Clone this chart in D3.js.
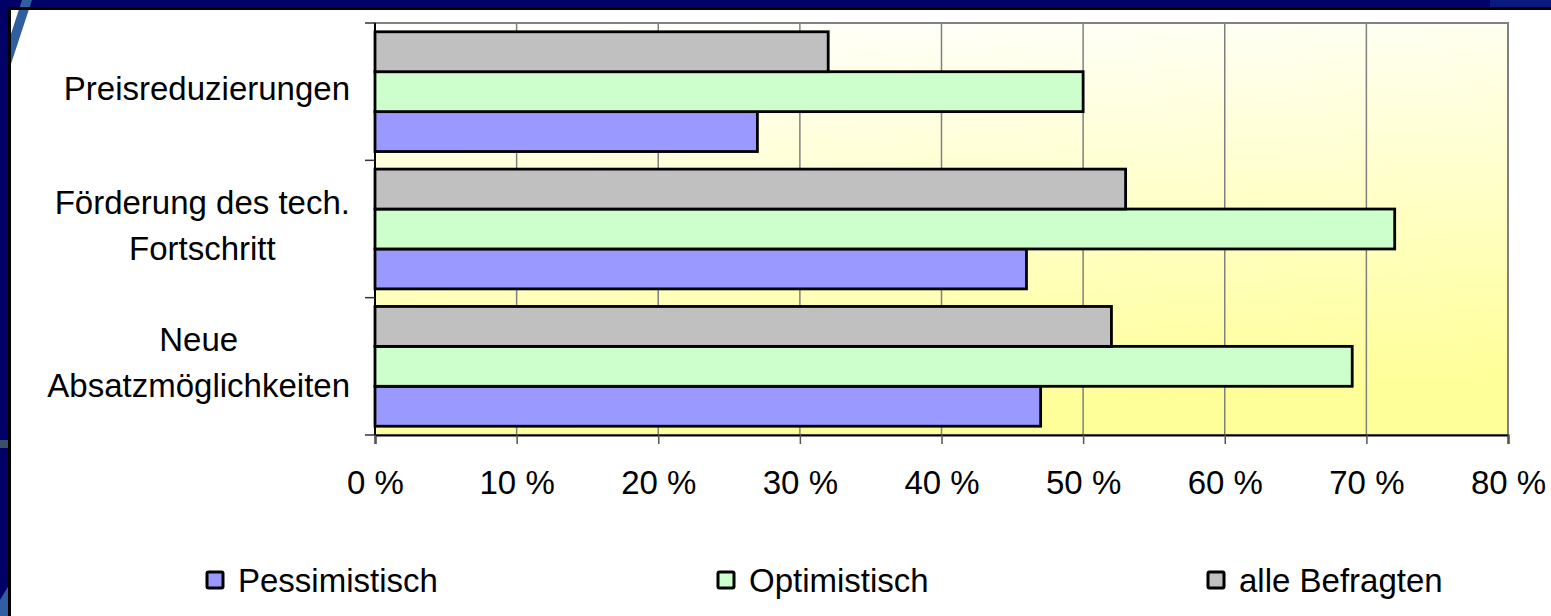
<!DOCTYPE html>
<html>
<head>
<meta charset="utf-8">
<script src="https://cdn.jsdelivr.net/npm/d3@7"></script>
<style>
  body { margin: 0; background: #ffffff; }
  svg { display: block; font-family: "Liberation Sans", Arial, sans-serif; }
</style>
</head>
<body>
<div id="chart"></div>
<script>
// categories top to bottom, "\n" marks a line break in the label
const categories = ["Preisreduzierungen", "Förderung des tech.\nFortschritt", "Neue\nAbsatzmöglichkeiten"];
const series = ["Pessimistisch", "Optimistisch", "alle Befragten"];
const pessimistisch = [27, 46, 47];
const optimistisch = [50, 72, 69];
const alleBefragten = [32, 53, 52];
const xTicks = [0, 10, 20, 30, 40, 50, 60, 70, 80];

const seriesValues = [pessimistisch, optimistisch, alleBefragten];
const seriesColors = ["#9999FF", "#CCFFCC", "#C0C0C0"];

const width = 1551;
const height = 616;
const plot = { left: 375, right: 1508, top: 23, bottom: 435 };
const fontSize = "33px";

const svg = d3.select("#chart")
  .append("svg")
  .attr("width", width)
  .attr("height", height);

const defs = svg.append("defs");
const grad = defs.append("linearGradient")
  .attr("id", "plotBg")
  .attr("x1", 0).attr("y1", 0)
  .attr("x2", 0.15).attr("y2", 1);
grad.append("stop").attr("offset", "0%").attr("stop-color", "#FFFFFF");
grad.append("stop").attr("offset", "100%").attr("stop-color", "#FFFF99");

// slide frame: navy strips top and left
svg.append("rect").attr("x", 0).attr("y", 0).attr("width", width).attr("height", 8).attr("fill", "#000066");
svg.append("rect").attr("x", 0).attr("y", 0).attr("width", 9).attr("height", height).attr("fill", "#000066");
svg.append("rect").attr("x", 1490).attr("y", 0).attr("width", 61).attr("height", 8).attr("fill", "#0a1a80");
svg.append("path")
  .attr("d", "M22,0 L32,0 L9,70 L9,40 Z M0,600 L9,585 L9,616 L0,616 Z")
  .attr("fill", "#2f5fa0");
svg.append("rect").attr("x", 0).attr("y", 440).attr("width", 9).attr("height", 8).attr("fill", "#3a4f6a");
svg.append("path")
  .attr("d", `M9.5,${height} L9.5,8.5 L${width},8.5`)
  .attr("fill", "none")
  .attr("stroke", "#000000")
  .attr("stroke-width", 3);

const x = d3.scaleLinear()
  .domain([0, 80])
  .range([plot.left, plot.right]);

const y = d3.scaleBand()
  .domain(categories)
  .range([plot.top, plot.bottom])
  .padding(0);

// bars inside a band: "alle Befragten" on top, "Pessimistisch" at the bottom
const ySeries = d3.scaleBand()
  .domain([2, 1, 0])
  .range([0, y.bandwidth()])
  .paddingInner(0)
  .paddingOuter(0.22);

svg.append("rect")
  .attr("x", plot.left)
  .attr("y", plot.top)
  .attr("width", plot.right - plot.left)
  .attr("height", plot.bottom - plot.top)
  .attr("fill", "url(#plotBg)")
  .attr("stroke", "#808080")
  .attr("stroke-width", 2);

svg.selectAll(".grid")
  .data(xTicks.slice(1))
  .enter()
  .append("line")
  .attr("x1", d => x(d))
  .attr("x2", d => x(d))
  .attr("y1", plot.top)
  .attr("y2", plot.bottom)
  .attr("stroke", "#808080")
  .attr("stroke-width", 1.5);

const rows = categories.map((c, i) => ({
  category: c,
  values: seriesValues.map((vals, s) => ({ s: s, value: vals[i] }))
}));

const groups = svg.selectAll(".cat")
  .data(rows)
  .enter()
  .append("g")
  .attr("transform", d => `translate(0,${y(d.category)})`);

groups.selectAll("rect")
  .data(d => d.values)
  .enter()
  .append("rect")
  .attr("x", x(0))
  .attr("y", d => ySeries(d.s))
  .attr("width", d => x(d.value) - x(0))
  .attr("height", ySeries.bandwidth())
  .attr("fill", d => seriesColors[d.s])
  .attr("stroke", "#000000")
  .attr("stroke-width", 2.8);

// axes
const xAxis = svg.append("g")
  .attr("transform", `translate(0,${plot.bottom})`)
  .call(d3.axisBottom(x).tickValues(xTicks).tickSize(9).tickFormat(d => d + " %"));
xAxis.select(".domain").attr("stroke", "#000000").attr("stroke-width", 2);
xAxis.selectAll(".tick line").attr("stroke", "#555555").attr("stroke-width", 1.5);
xAxis.selectAll(".tick text")
  .attr("y", 36)
  .attr("font-family", "Liberation Sans, Arial, sans-serif")
  .attr("font-size", fontSize)
  .attr("fill", "#000000");

const bandEdges = categories.map(c => y(c)).concat([plot.bottom]);
svg.append("line")
  .attr("x1", plot.left).attr("x2", plot.left)
  .attr("y1", plot.top).attr("y2", plot.bottom)
  .attr("stroke", "#000000").attr("stroke-width", 2);
svg.selectAll(".ytick")
  .data(bandEdges)
  .enter()
  .append("line")
  .attr("x1", plot.left - 10).attr("x2", plot.left)
  .attr("y1", d => d).attr("y2", d => d)
  .attr("stroke", "#333333").attr("stroke-width", 1.5);

// category labels, centred lines, block right-aligned to the axis
const labelRight = 350;
const lineHeight = 46;
const labels = svg.selectAll(".catLabel")
  .data(categories)
  .enter()
  .append("text")
  .attr("font-size", fontSize)
  .attr("fill", "#000000")
  .attr("text-anchor", "middle");

labels.each(function(c) {
  const text = d3.select(this);
  const lines = c.split("\n");
  const cy = y(c) + y.bandwidth() / 2;
  lines.forEach((line, k) => {
    text.append("tspan")
      .attr("y", cy + (k - (lines.length - 1) / 2) * lineHeight + 8)
      .text(line);
  });
  let maxW = 0;
  text.selectAll("tspan").each(function() {
    maxW = Math.max(maxW, this.getComputedTextLength());
  });
  text.selectAll("tspan").attr("x", labelRight - maxW / 2);
});

// legend
const legendX = [207, 718, 1208];
const legend = svg.selectAll(".legend")
  .data(series)
  .enter()
  .append("g")
  .attr("transform", (d, i) => `translate(${legendX[i]},572)`);

legend.append("rect")
  .attr("width", 16)
  .attr("height", 16)
  .attr("rx", 1.5)
  .attr("fill", (d, i) => seriesColors[i])
  .attr("stroke", "#000000")
  .attr("stroke-width", 3);

legend.append("text")
  .attr("x", 31)
  .attr("y", 20)
  .attr("font-size", fontSize)
  .attr("fill", "#000000")
  .text(d => d);
</script>
</body>
</html>
